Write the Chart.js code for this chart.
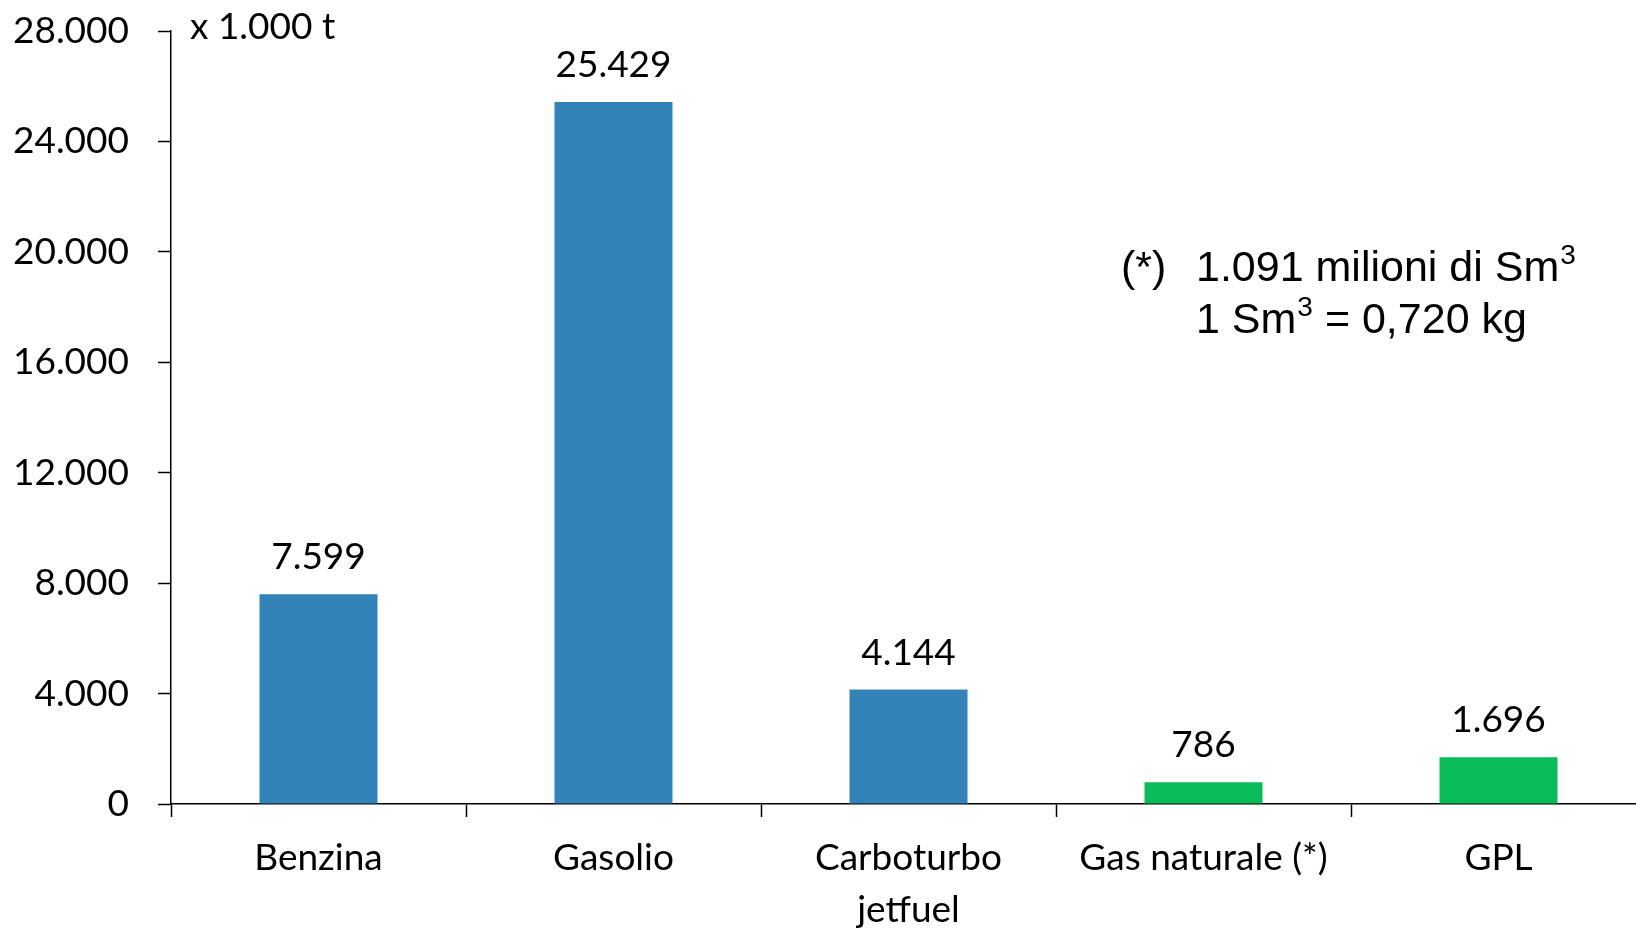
<!DOCTYPE html>
<html lang="it">
<head>
<meta charset="utf-8">
<title>Consumi di carburanti</title>
<script src="https://cdn.jsdelivr.net/npm/chart.js@4/dist/chart.umd.min.js"></script>
<style>
  html, body { margin: 0; padding: 0; background: #ffffff; overflow: hidden; }
  #wrap { width: 1646px; height: 929px; position: relative; }
</style>
</head>
<body>
<div id="wrap"><canvas id="chart" width="1646" height="929"></canvas></div>
<script>
// Categorie e valori (migliaia di tonnellate)
const categories = ['Benzina', 'Gasolio', ['Carboturbo', 'jetfuel'], 'Gas naturale (*)', 'GPL'];
const values = [7599, 25429, 4144, 786, 1696];
const barColors = ['#3483b8', '#3483b8', '#3483b8', '#0abc59', '#0abc59'];
const yTicks = [0, 4000, 8000, 12000, 16000, 20000, 24000, 28000];
const unitLabel = 'x 1.000 t';
const noteMarker = '(*)';
const noteLine1 = ['1.091 milioni di Sm', '3'];
const noteLine2 = ['1 Sm', '3', ' = 0,720 kg'];

const LABEL_FONT = '37px Lato';
const NOTE_FONT = '43px "Liberation Sans"';
const SUP_FONT = '28px "Liberation Sans"';

// Separatore delle migliaia con il punto
function fmt(v) {
  return String(Math.round(v)).replace(/\B(?=(\d{3})+(?!\d))/g, '.');
}

// Etichette dei valori sopra le barre
const valueLabels = {
  id: 'valueLabels',
  afterDatasetsDraw(chart) {
    const ctx = chart.ctx;
    const meta = chart.getDatasetMeta(0);
    ctx.save();
    ctx.font = LABEL_FONT;
    ctx.fillStyle = '#000';
    ctx.textAlign = 'center';
    ctx.textBaseline = 'middle';
    meta.data.forEach((bar, i) => {
      ctx.fillText(fmt(values[i]), bar.x, bar.y - 37);
    });
    ctx.restore();
  }
};

// Unità di misura e nota sul gas naturale
const notes = {
  id: 'notes',
  afterDraw(chart) {
    const ctx = chart.ctx;
    const area = chart.chartArea;
    ctx.save();
    ctx.fillStyle = '#000';
    ctx.textBaseline = 'middle';
    ctx.textAlign = 'left';
    ctx.font = LABEL_FONT;
    ctx.fillText(unitLabel, area.left + 19, area.top - 4);

    ctx.textBaseline = 'alphabetic';
    ctx.font = NOTE_FONT;
    ctx.fillText(noteMarker, 1121, 281);
    let x = 1196;
    ctx.fillText(noteLine1[0], x, 281);
    x += ctx.measureText(noteLine1[0]).width + 1;
    ctx.font = SUP_FONT;
    ctx.fillText(noteLine1[1], x, 264);

    x = 1196;
    ctx.font = NOTE_FONT;
    ctx.fillText(noteLine2[0], x, 333);
    x += ctx.measureText(noteLine2[0]).width + 1;
    ctx.font = SUP_FONT;
    ctx.fillText(noteLine2[1], x, 316);
    x += ctx.measureText(noteLine2[1]).width;
    ctx.font = NOTE_FONT;
    ctx.fillText(noteLine2[2], x, 333);
    ctx.restore();
  }
};

new Chart(document.getElementById('chart'), {
  type: 'bar',
  data: {
    labels: categories,
    datasets: [{
      data: values,
      backgroundColor: barColors,
      borderWidth: 0,
      barPercentage: 0.4,
      categoryPercentage: 1.0
    }]
  },
  options: {
    responsive: false,
    animation: false,
    devicePixelRatio: 1,
    layout: { padding: { top: 31, right: 0, left: 0, bottom: 0 } },
    plugins: {
      legend: { display: false },
      tooltip: { enabled: false }
    },
    scales: {
      x: {
        offset: true,
        grid: {
          display: true,
          offset: true,
          drawOnChartArea: false,
          drawTicks: true,
          tickLength: 13,
          tickWidth: 1.5,
          color: '#000'
        },
        border: { display: true, color: '#000', width: 1.5 },
        ticks: {
          color: '#000',
          font: { family: 'Lato', size: 37, lineHeight: 1.4 },
          padding: 15,
          maxRotation: 0,
          autoSkip: false
        },
        afterFit(scale) { scale.height = 125; }
      },
      y: {
        min: 0,
        max: 28000,
        afterBuildTicks(scale) { scale.ticks = yTicks.map(v => ({ value: v })); },
        grid: {
          display: true,
          drawOnChartArea: false,
          drawTicks: true,
          tickLength: 13,
          tickWidth: 1.5,
          color: '#000'
        },
        border: { display: true, color: '#000', width: 1.5 },
        ticks: {
          color: '#000',
          font: { family: 'Lato', size: 37 },
          padding: 29,
          callback: (v) => fmt(v)
        },
        afterFit(scale) {
          scale.width = 171;
          scale.paddingTop = 0;
          scale.paddingBottom = 0;
        }
      }
    }
  },
  plugins: [valueLabels, notes]
});
</script>
</body>
</html>
